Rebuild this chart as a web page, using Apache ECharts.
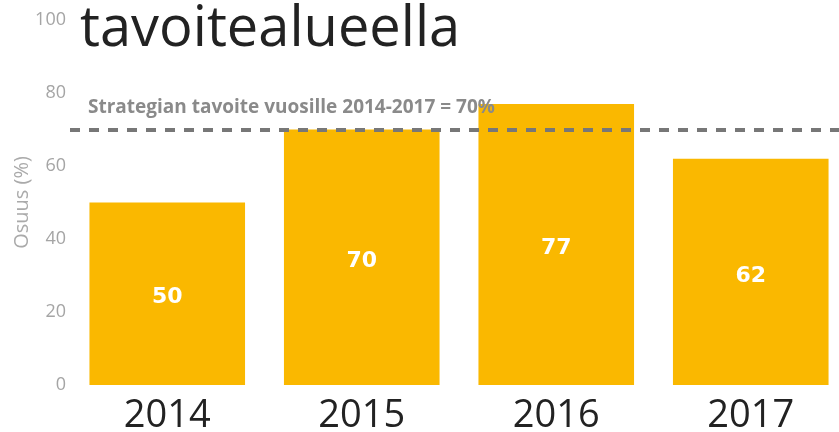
<!DOCTYPE html>
<html>
<head>
<meta charset="utf-8">
<script src="https://cdn.jsdelivr.net/npm/echarts@6/dist/echarts.min.js"></script>
<style>
  html, body { margin: 0; padding: 0; background: #fff; }
  #chart { width: 839px; height: 432px; }
</style>
</head>
<body>
<div id="chart"></div>
<script>
const years = ["2014", "2015", "2016", "2017"];
const shares = [50, 70, 77, 62];
const targetValue = 70;
const targetLabel = "Strategian tavoite vuosille 2014-2017 = 70%";

const chart = echarts.init(document.getElementById("chart"));

chart.setOption({
  animation: false,
  title: {
    text: "tavoitealueella",
    left: 75,
    top: -3,
    textStyle: {
      fontFamily: "Open Sans",
      fontWeight: "normal",
      fontSize: 56,
      color: "#222"
    }
  },
  grid: {
    left: 70,
    right: -9,
    top: 20,
    bottom: 47,
    outerBoundsMode: "none"
  },
  xAxis: {
    type: "category",
    data: years,
    axisLine: { show: false },
    axisTick: { show: false },
    axisLabel: {
      margin: 12,
      fontFamily: "Open Sans",
      fontSize: 38,
      color: "#222"
    }
  },
  yAxis: {
    type: "value",
    min: 0,
    max: 100,
    interval: 20,
    name: "Osuus (%)",
    nameLocation: "middle",
    nameGap: 38,
    nameMoveOverlap: false,
    nameTextStyle: { color: "#aaa", fontSize: 20, fontFamily: "Open Sans" },
    splitLine: { show: false },
    axisLine: { show: false },
    axisTick: { show: false },
    axisLabel: {
      margin: 4,
      fontFamily: "Open Sans",
      fontSize: 18,
      color: "#a5a5a5"
    }
  },
  series: [
    {
      type: "bar",
      data: shares,
      barCategoryGap: "20%",
      itemStyle: { color: "#FAB800" },
      label: {
        show: true,
        position: "inside",
        offset: [0, 4],
        color: "#fff",
        fontWeight: "bold",
        fontFamily: "DejaVu Sans",
        fontSize: 22
      },
      markLine: {
        symbol: "none",
        silent: true,
        lineStyle: { color: "#777", width: 4, type: [10, 9] },
        label: {
          position: "insideStartTop",
          formatter: targetLabel,
          color: "#8a8a8a",
          fontWeight: "bold",
          fontFamily: "Open Sans",
          fontSize: 19,
          distance: [18, 12]
        },
        data: [{ yAxis: targetValue }]
      }
    }
  ]
});
</script>
</body>
</html>
